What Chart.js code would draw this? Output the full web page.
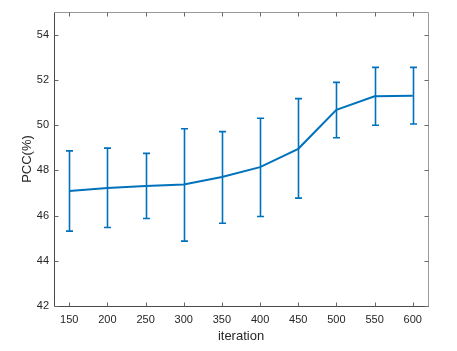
<!DOCTYPE html>
<html>
<head>
<meta charset="utf-8">
<script src="https://cdn.jsdelivr.net/npm/chart.js@4/dist/chart.umd.min.js"></script>
<style>
  html, body { margin: 0; padding: 0; background: #fff; }
  #wrap { width: 457px; height: 351px; }
</style>
</head>
<body>
<div id="wrap"><canvas id="chart" width="457" height="351"></canvas></div>
<script>
// 数据
const iters = [150, 200, 250, 300, 350, 400, 450, 500, 550, 600];
const pccMean = [47.09, 47.22, 47.31, 47.37, 47.70, 48.14, 48.95, 50.67, 51.27, 51.30];
const pccUpper = [48.86, 48.98, 48.75, 49.84, 49.71, 50.30, 51.17, 51.89, 52.55, 52.55];
const pccLower = [45.31, 45.47, 45.87, 44.87, 45.66, 45.96, 46.77, 49.44, 49.99, 50.05];
const xTicks = [150, 200, 250, 300, 350, 400, 450, 500, 550, 600];
const yTicks = [42, 44, 46, 48, 50, 52, 54];

const blue = '#0072BD';
const txt = '#262626';
const fam = '"Liberation Sans", Arial, Helvetica, sans-serif';

// 误差棒
const errorBars = {
    id: 'errorBars',
    afterDatasetsDraw(c) {
        const x = c.scales.x, y = c.scales.y, g = c.ctx;
        g.save();
        g.strokeStyle = blue;
        g.lineWidth = 1.6;
        iters.forEach((it, i) => {
            const px = Math.round(x.getPixelForValue(it)) + 0.5;
            const yt = y.getPixelForValue(pccUpper[i]);
            const yb = y.getPixelForValue(pccLower[i]);
            g.beginPath();
            g.moveTo(px, yt); g.lineTo(px, yb);
            g.moveTo(px - 3.5, yt); g.lineTo(px + 3.5, yt);
            g.moveTo(px - 3.5, yb); g.lineTo(px + 3.5, yb);
            g.stroke();
        });
        g.restore();
    }
};

// 坐标框 + 向内刻度
const frame = {
    id: 'frame',
    afterDraw(c) {
        const a = c.chartArea, x = c.scales.x, y = c.scales.y, g = c.ctx;
        const L = Math.round(a.left) + 0.5, R = Math.round(a.right) + 0.5;
        const T = Math.round(a.top) + 0.5, B = Math.round(a.bottom) + 0.5;
        g.save();
        g.lineWidth = 1;
        g.strokeStyle = '#999999';
        g.beginPath();
        g.moveTo(L, T); g.lineTo(R, T); g.lineTo(R, B);
        g.stroke();
        g.strokeStyle = '#4a4a4a';
        g.beginPath();
        g.moveTo(L, T); g.lineTo(L, B); g.lineTo(R, B);
        g.stroke();
        g.strokeStyle = '#666666';
        g.beginPath();
        xTicks.forEach(v => {
            const px = Math.round(x.getPixelForValue(v)) + 0.5;
            g.moveTo(px, B); g.lineTo(px, B - 4);
            g.moveTo(px, T); g.lineTo(px, T + 4);
        });
        yTicks.forEach(v => {
            const py = Math.round(y.getPixelForValue(v)) + 0.5;
            g.moveTo(L, py); g.lineTo(L + 4, py);
            g.moveTo(R, py); g.lineTo(R - 4, py);
        });
        g.stroke();
        g.restore();
    }
};

new Chart(document.getElementById('chart'), {
    type: 'line',
    data: {
        datasets: [{
            data: iters.map((v, i) => ({ x: v, y: pccMean[i] })),
            borderColor: blue,
            borderWidth: 2,
            pointRadius: 0,
            tension: 0,
            fill: false
        }]
    },
    options: {
        responsive: false,
        animation: false,
        events: [],
        layout: { padding: { top: 12, right: 29, left: 0, bottom: 0 } },
        plugins: { legend: { display: false }, tooltip: { enabled: false } },
        scales: {
            x: {
                type: 'linear', min: 130, max: 620,
                afterBuildTicks: s => { s.ticks = xTicks.map(v => ({ value: v })); },
                afterFit: s => { s.height = 45; },
                grid: { display: false, drawTicks: false },
                border: { display: false },
                ticks: { color: txt, padding: 7, maxRotation: 0, font: { family: fam, size: 11 } },
                title: { display: true, text: 'iteration', color: txt, padding: { top: 0, bottom: 7 }, font: { family: fam, size: 13 } }
            },
            y: {
                min: 42, max: 55,
                afterBuildTicks: s => { s.ticks = yTicks.map(v => ({ value: v })); },
                afterFit: s => { s.width = 54; },
                grid: { display: false, drawTicks: false },
                border: { display: false },
                ticks: { color: txt, padding: 5, font: { family: fam, size: 11 } },
                title: { display: true, text: 'PCC(%)', color: txt, padding: { top: 20, bottom: 0 }, font: { family: fam, size: 13 } }
            }
        }
    },
    plugins: [errorBars, frame]
});
</script>
</body>
</html>
